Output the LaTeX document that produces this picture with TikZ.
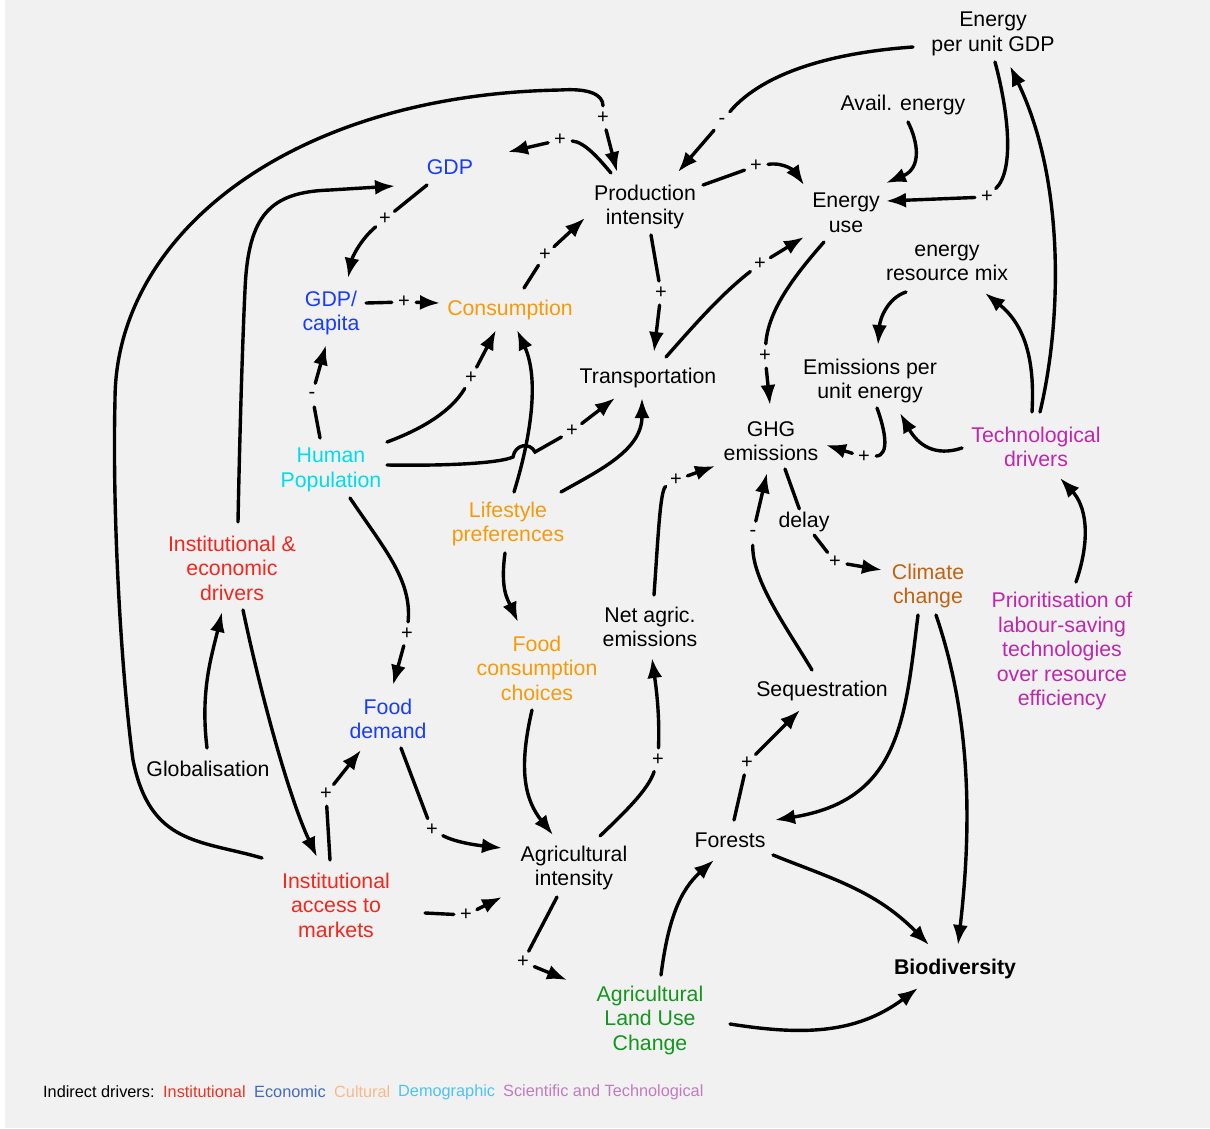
\documentclass[tikz,border=0pt]{standalone}
\usepackage{fontspec}
\setmainfont{Liberation Sans}
\usetikzlibrary{arrows.meta}
\definecolor{bg}{RGB}{241,241,241}
\definecolor{cblue}{RGB}{25,60,250}
\definecolor{corange}{RGB}{245,155,10}
\definecolor{ccyan}{RGB}{0,220,235}
\definecolor{cred}{RGB}{240,40,30}
\definecolor{cbrown}{RGB}{190,100,20}
\definecolor{cmag}{RGB}{190,40,170}
\definecolor{cgreen}{RGB}{20,150,30}
\definecolor{lgred}{RGB}{235,50,35}
\definecolor{lgblue}{RGB}{70,105,185}
\definecolor{lgorange}{RGB}{247,185,140}
\definecolor{lgcyan}{RGB}{76,196,240}
\definecolor{lgpurple}{RGB}{192,124,192}
\begin{document}
\begin{tikzpicture}[x=1pt,y=-1pt,
  lbl/.style={align=center, font=\fontsize{21.3}{24.5}\selectfont, inner sep=3pt},
  sgn/.style={circle, minimum size=24pt, inner sep=0pt, font=\fontsize{20}{20}\selectfont},
  con/.style={line width=3.4pt, line cap=round},
  arr/.style={con, -{Latex[length=20pt,width=15pt]}},
  leg/.style={anchor=west, font=\fontsize{16.3}{18}\selectfont, inner sep=0pt}]

\fill[white] (0,0) rectangle (1210,1128);
\fill[bg] (5,0) rectangle (1210,1128);
\useasboundingbox (0,0) rectangle (1210,1128);

% ---------- nodes ----------
\node[lbl] (epu) at (993,34) {Energy\\per unit GDP};
\node[lbl] (ae) at (903,105) {Avail. energy};
\node[lbl,text=cblue] (gdp) at (450,167) {GDP};
\node[lbl] (pi) at (645,207) {Production\\intensity};
\node[lbl] (eu) at (846,213) {Energy\\use};
\node[lbl] (erm) at (947,263) {energy\\resource mix};
\node[lbl,text=cblue] (gdpc) at (331,313) {GDP/\\capita};
\node[lbl,text=corange] (cons) at (510,310) {Consumption};
\node[lbl] (tr) at (648,378) {Transportation};
\node[lbl] (epue) at (870,381) {Emissions per\\unit energy};
\node[lbl] (ghg) at (771,441) {GHG\\emissions};
\node[lbl,text=cmag] (td) at (1036,447) {Technological\\drivers};
\node[lbl,text=ccyan] (hp) at (331,470) {Human\\Population};
\node[lbl,text=corange] (lp) at (508,524) {Lifestyle\\preferences};
\node[lbl] (dl) at (804,522) {delay};
\node[lbl,text=cred] (ied) at (232,568) {Institutional \&\\economic\\drivers};
\node[lbl,text=cbrown] (cc) at (928,586) {Climate\\change};
\node[lbl,text=cmag] (prio) at (1062,651) {Prioritisation of\\labour-saving\\technologies\\over resource\\efficiency};
\node[lbl] (nae) at (650,627) {Net agric.\\emissions};
\node[lbl,text=corange] (fcc) at (537,668) {Food\\consumption\\choices};
\node[lbl] (seq) at (822,691) {Sequestration};
\node[lbl,text=cblue] (fd) at (388,719) {Food\\demand};
\node[lbl] (glob) at (208,769) {Globalisation};
\node[lbl] (fo) at (730,840) {Forests};
\node[lbl] (ai) at (574,868) {Agricultural\\intensity};
\node[lbl,text=cred] (iam) at (336,905) {Institutional\\access to\\markets};
\node[lbl,font=\fontsize{21.3}{24.5}\selectfont\bfseries] (bio) at (955,969) {Biodiversity};
\node[lbl,text=cgreen] (alu) at (650,1020) {Agricultural\\Land Use\\Change};

% ---------- sign nodes ----------
\node[sgn] (sA) at (722,121) {-};
\node[sgn] (sB) at (987,197) {+};
\node[sgn] (sC) at (560,140) {+};
\node[sgn] (sD) at (603,118) {+};
\node[sgn] (sE) at (385,219) {+};
\node[sgn] (sF) at (404,302) {+};
\node[sgn] (sG) at (545,255) {+};
\node[sgn] (sH) at (312,395) {-};
\node[sgn] (sI) at (471,378) {+};
\node[sgn] (sJ) at (572,431) {+};
\node[sgn] (sK) at (661,293) {+};
\node[sgn] (sL) at (760,264) {+};
\node[sgn] (sM) at (756,166) {+};
\node[sgn] (sN) at (765,356) {+};
\node[sgn] (sO) at (864,457) {+};
\node[sgn] (sP) at (676,480) {+};
\node[sgn] (sQ) at (753,533) {-};
\node[sgn] (sR) at (835,562) {+};
\node[sgn] (sS) at (407,634) {+};
\node[sgn] (sT) at (326,794) {+};
\node[sgn] (sU) at (432,830) {+};
\node[sgn] (sV) at (466,915) {+};
\node[sgn] (sW) at (523,962) {+};
\node[sgn] (sX) at (658,760) {+};
\node[sgn] (sY) at (747,763) {+};

% ---------- connectors ----------
% Energy per unit GDP -> Production intensity (-)
\draw[con] ([shift={(-80,13)}]epu.center) .. controls (840,52) and (765,70) .. (sA);
\draw[arr] (sA) -- ([shift={(33,-35)}]pi.center);
% Avail. energy -> Energy use
\draw[arr] ([shift={(5,17)}]ae.center) .. controls (918,142) and (922,168) .. ([shift={(40,-30)}]eu.center);
% Energy per unit GDP -> Energy use (+)
\draw[con] ([shift={(2,28)}]epu.center) .. controls (1008,110) and (1015,170) .. (sB);
\draw[arr] (sB) -- ([shift={(40,-12)}]eu.center);
% Technological drivers -> Energy per unit GDP
\draw[arr] ([shift={(4,-35)}]td.center) .. controls (1062,320) and (1065,180) .. ([shift={(17,32)}]epu.center);
% Technological drivers -> energy resource mix
\draw[arr] ([shift={(-4,-35)}]td.center) .. controls (1035,360) and (1025,325) .. ([shift={(38,30)}]erm.center);
% Technological drivers -> Emissions per unit energy
\draw[arr] ([shift={(-74,1)}]td.center) .. controls (935,457) and (918,445) .. ([shift={(30,32)}]epue.center);
% energy resource mix -> Emissions per unit energy
\draw[arr] ([shift={(-41,29)}]erm.center) .. controls (888,298) and (880,318) .. ([shift={(8,-36)}]epue.center);
% Emissions per unit energy -> GHG emissions (+)
\draw[con] ([shift={(7,27)}]epue.center) .. controls (885,430) and (890,455) .. (sO);
\draw[arr] (sO) -- ([shift={(55,4)}]ghg.center);
% Production intensity -> GDP (+)
\draw[con] ([shift={(-34,-34)}]pi.center) .. controls (600,160) and (585,142) .. (sC);
\draw[arr] (sC) -- ([shift={(58,-15)}]gdp.center);
% Institutional access to markets -> Production intensity (+)
\draw[con] ([shift={(-74,-47)}]iam.center) .. controls (200,840) and (150,845) .. (133,760)
  .. controls (122,680) and (112,520) .. (115,400)
  .. controls (115,235) and (290,95) .. (560,90)
  .. controls (590,88) and (603,95) .. (sD);
\draw[arr] (sD) -- ([shift={(-28,-35)}]pi.center);
% Institutional & economic drivers -> GDP
\draw[arr] ([shift={(6,-46)}]ied.center) .. controls (240,420) and (243,330) .. (245,290)
  .. controls (248,215) and (270,192) .. (330,190) -- ([shift={(-55,19)}]gdp.center);
% GDP -> GDP/capita (+)
\draw[con] ([shift={(-23,18)}]gdp.center) -- (sE);
\draw[arr] (sE) .. controls (360,240) and (352,258) .. ([shift={(17,-35)}]gdpc.center);
% GDP/capita -> Consumption (+)
\draw[con] ([shift={(35,-10)}]gdpc.center) -- (sF);
\draw[arr] (sF) -- ([shift={(-70,-7)}]cons.center);
% Consumption -> Production intensity (+)
\draw[con] ([shift={(14,-22)}]cons.center) -- (sG);
\draw[arr] (sG) -- ([shift={(-60,11)}]pi.center);
% Human Population -> GDP/capita (-)
\draw[con] ([shift={(-11,-32)}]hp.center) -- (sH);
\draw[arr] (sH) -- ([shift={(-5,32)}]gdpc.center);
% Human Population -> Consumption (+)
\draw[con] ([shift={(56,-28)}]hp.center) .. controls (425,428) and (452,410) .. (sI);
\draw[arr] (sI) -- ([shift={(-14,20)}]cons.center);
% Human Population -> Transportation (+), with a hop
\draw[con] ([shift={(56,-5)}]hp.center) .. controls (450,466) and (500,463) .. (513,457)
  .. controls (515,444) and (530,442) .. (535,452) -- (sJ);
\draw[arr] (sJ) -- ([shift={(-33,20)}]tr.center);
% Lifestyle preferences -> Consumption
\draw[arr] ([shift={(6,-32)}]lp.center) .. controls (530,440) and (540,380) .. ([shift={(7,20)}]cons.center);
% Lifestyle preferences -> Transportation
\draw[arr] ([shift={(53,-32)}]lp.center) .. controls (600,470) and (642,450) .. ([shift={(-6,20)}]tr.center);
% Production intensity -> Transportation (+)
\draw[con] ([shift={(6,28)}]pi.center) -- (sK);
\draw[arr] (sK) -- ([shift={(6,-26)}]tr.center);
% Transportation -> Energy use (+)
\draw[con] ([shift={(18,-21)}]tr.center) .. controls (690,330) and (720,295) .. (sL);
\draw[arr] (sL) -- ([shift={(-42,24)}]eu.center);
% Production intensity -> Energy use (+)
\draw[con] ([shift={(58,-22)}]pi.center) -- (sM);
\draw[arr] (sM) .. controls (785,162) and (795,172) .. ([shift={(-42,-28)}]eu.center);
% Energy use -> GHG emissions (+)
\draw[con] ([shift={(-22,29)}]eu.center) .. controls (795,275) and (768,310) .. (sN);
\draw[arr] (sN) -- ([shift={(-1,-36)}]ghg.center);
% Net agric. emissions -> GHG emissions (+)
\draw[con] ([shift={(4,-32)}]nae.center) .. controls (658,540) and (660,490) .. (sP);
\draw[arr] (sP) -- ([shift={(-56,25)}]ghg.center);
% Sequestration -> GHG emissions (-)
\draw[con] ([shift={(-10,-21)}]seq.center) .. controls (785,625) and (752,580) .. (sQ);
\draw[arr] (sQ) -- ([shift={(-4,32)}]ghg.center);
% GHG emissions -> Climate change (+) with delay
\draw[con] ([shift={(14,28)}]ghg.center) -- (dl);
\draw[con] (dl) -- (sR);
\draw[arr] (sR) -- ([shift={(-46,-16)}]cc.center);
% Climate change -> Forests
\draw[arr] ([shift={(-10,29)}]cc.center) .. controls (905,720) and (900,800) .. ([shift={(45,-20)}]fo.center);
% Climate change -> Biodiversity
\draw[arr] ([shift={(8,29)}]cc.center) .. controls (965,700) and (975,800) .. ([shift={(3,-24)}]bio.center);
% Prioritisation -> Technological drivers
\draw[arr] ([shift={(14,-69)}]prio.center) .. controls (1092,535) and (1085,505) .. ([shift={(24,31)}]td.center);
% Food consumption choices -> Agricultural intensity
\draw[arr] ([shift={(-5,42)}]fcc.center) .. controls (518,770) and (525,800) .. ([shift={(-21,-33)}]ai.center);
% Lifestyle preferences -> Food consumption choices
\draw[arr] ([shift={(-3,29)}]lp.center) .. controls (500,590) and (508,600) .. ([shift={(-19,-46)}]fcc.center);
% Human Population -> Food demand (+)
\draw[con] ([shift={(19,28)}]hp.center) .. controls (385,550) and (412,580) .. (sS);
\draw[arr] (sS) -- ([shift={(5,-34)}]fd.center);
% Globalisation -> Institutional & economic drivers
\draw[arr] ([shift={(-1,-21)}]glob.center) .. controls (200,690) and (212,655) .. ([shift={(-10,44)}]ied.center);
% Institutional & economic drivers -> Institutional access to markets
\draw[arr] ([shift={(11,42)}]ied.center) .. controls (262,700) and (290,800) .. ([shift={(-19,-48)}]iam.center);
% Institutional access to markets -> Food demand (+)
\draw[con] ([shift={(-6,-45)}]iam.center) -- (sT);
\draw[arr] (sT) -- ([shift={(-27,31)}]fd.center);
% Food demand -> Agricultural intensity (+)
\draw[con] ([shift={(13,29)}]fd.center) -- (sU);
\draw[arr] (sU) .. controls (455,842) and (475,845) .. ([shift={(-72,-20)}]ai.center);
% Institutional access to markets -> Agricultural intensity (+)
\draw[con] ([shift={(89,8)}]iam.center) -- (sV);
\draw[arr] (sV) -- ([shift={(-72,29)}]ai.center);
% Agricultural intensity -> Agricultural Land Use Change (+)
\draw[con] ([shift={(-17,29)}]ai.center) -- (sW);
\draw[arr] (sW) -- ([shift={(-83,-40)}]alu.center);
% Agricultural intensity -> Net agric. emissions (+)
\draw[con] ([shift={(26,-32)}]ai.center) .. controls (625,812) and (648,790) .. (sX);
\draw[arr] (sX) .. controls (660,710) and (655,680) .. ([shift={(2,31)}]nae.center);
% Forests -> Sequestration (+)
\draw[con] ([shift={(4,-20)}]fo.center) -- (sY);
\draw[arr] (sY) -- ([shift={(-22,19)}]seq.center);
% Forests -> Biodiversity
\draw[arr] ([shift={(43,15)}]fo.center) .. controls (830,878) and (875,890) .. ([shift={(-26,-24)}]bio.center);
% Agricultural Land Use Change -> Forests
\draw[arr] ([shift={(11,-45)}]alu.center) .. controls (668,920) and (680,890) .. ([shift={(-16,20)}]fo.center);
% Agricultural Land Use Change -> Biodiversity
\draw[arr] ([shift={(80,4)}]alu.center) .. controls (800,1035) and (855,1035) .. ([shift={(-37,19)}]bio.center);

% ---------- legend ----------
\node[leg] (lg0) at (43,1092) {Indirect drivers:};
\node[leg,text=lgred] (lg1) at (163,1092) {Institutional};
\node[leg,text=lgblue] (lg2) at (254,1092) {Economic};
\node[leg,text=lgorange] (lg3) at (334,1092) {Cultural};
\node[leg,text=lgcyan] (lg4) at (398,1092) {Demographic};
\node[leg,text=lgpurple] (lg5) at (503,1092) {Scientific and Technological};
\end{tikzpicture}
\end{document}
